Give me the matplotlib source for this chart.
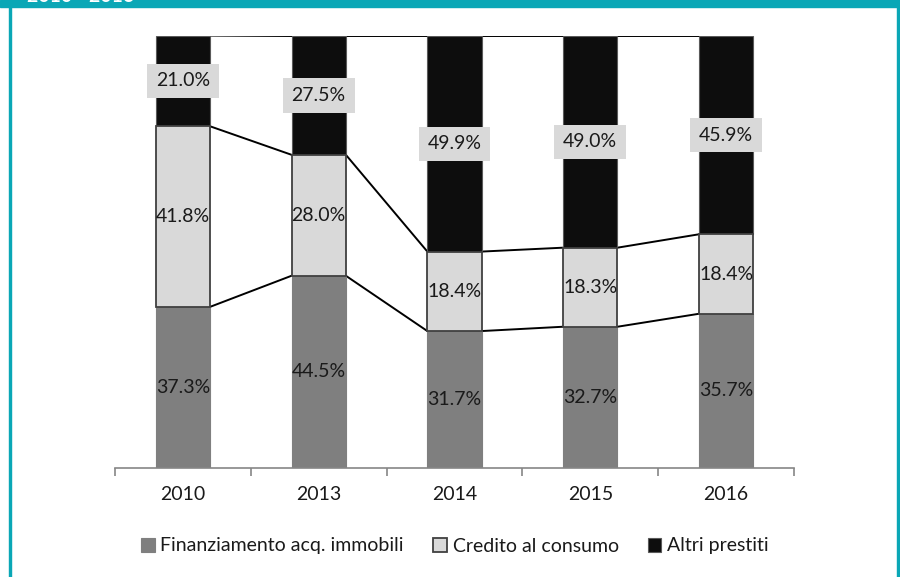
import numpy as np
import matplotlib.pyplot as plt
from matplotlib.patches import Rectangle

plt.rcParams['font.family'] = ['Lato', 'DejaVu Sans']

# Data (shares, %)
years = ['2010', '2013', '2014', '2015', '2016']
immobili = [37.3, 44.5, 31.7, 32.7, 35.7]
consumo = [41.8, 28.0, 18.4, 18.3, 18.4]
altri = [21.0, 27.5, 49.9, 49.0, 45.9]
series_names = ['Finanziamento acq. immobili', 'Credito al consumo', 'Altri prestiti']

teal = '#0aa7b6'
c_imm = '#7f7f7f'
c_con = '#d9d9d9'
c_alt = '#0d0d0d'
fs = 14

fig = plt.figure(figsize=(9, 5.77), dpi=100)
ax = fig.add_axes([115/900, 1 - 468/577, (794-115)/900, (468-36)/577])

x = np.arange(len(years))
w = 0.4
imm = np.array(immobili)
con = np.array(consumo)
alt = np.array(altri)

ax.bar(x, imm, w, color=c_imm, edgecolor=c_imm, linewidth=0.8, label=series_names[0], zorder=2)
ax.bar(x, con, w, bottom=imm, color=c_con, edgecolor='#404040', linewidth=1.3, label=series_names[1], zorder=3)
ax.bar(x, alt, w, bottom=imm + con, color=c_alt, edgecolor='#5a5a5a', linewidth=0.8, label=series_names[2], zorder=2)

# series lines between the bars
for level in [imm, imm + con, imm + con + alt]:
    for i in range(len(years) - 1):
        ax.plot([x[i] + w/2, x[i+1] - w/2], [level[i], level[i+1]], color='black', lw=1.4, zorder=1)

# labels
for i in range(len(years)):
    ax.text(x[i], imm[i]/2, f'{immobili[i]:.1f}%', ha='center', va='center', fontsize=fs, color='#1a1a1a', zorder=5)
    ax.text(x[i], imm[i] + con[i]/2, f'{consumo[i]:.1f}%', ha='center', va='center', fontsize=fs, color='#1a1a1a', zorder=5)
    ax.text(x[i], imm[i] + con[i] + alt[i]/2, f'{altri[i]:.1f}%', ha='center', va='center', fontsize=fs,
            color='#1a1a1a', zorder=5,
            bbox=dict(boxstyle='square,pad=0.45', facecolor=c_con, edgecolor='none'))

ax.set_xlim(-0.5, len(years) - 0.5)
ax.set_ylim(0, 100)
for s in ['top', 'left', 'right']:
    ax.spines[s].set_visible(False)
ax.spines['bottom'].set_color('#868686')
ax.spines['bottom'].set_linewidth(1.2)
ax.set_yticks([])
ax.set_xticks(np.arange(-0.5, len(years), 1.0))
ax.set_xticklabels([])
ax.set_xticks(x, minor=True)
ax.set_xticklabels(years, minor=True, fontsize=fs, color='#1a1a1a')
ax.tick_params(axis='x', which='major', length=6, width=1.2, color='#868686', direction='out')
ax.tick_params(axis='x', which='minor', length=0, pad=13)

ax.legend(loc='center', bbox_to_anchor=(455/900, 1 - 546/577), bbox_transform=fig.transFigure,
          ncol=3, frameon=False, fontsize=fs, handlelength=0.7, handleheight=0.7,
          handletextpad=0.3, columnspacing=1.5, labelcolor='#1a1a1a')

# teal frame
fig.patches.append(Rectangle((0, 1 - 7/577), 1, 7/577, transform=fig.transFigure, color=teal, zorder=0))
fig.patches.append(Rectangle((9/900, 0), 2/900, 1, transform=fig.transFigure, color=teal, zorder=0))
fig.patches.append(Rectangle((897/900, 0), 3/900, 1, transform=fig.transFigure, color=teal, zorder=0))
fig.text(27/900, 1 - 2/577, '2010 - 2016', color='white', fontsize=14, fontweight='bold', va='baseline')

fig.savefig('out.png', dpi=100)
